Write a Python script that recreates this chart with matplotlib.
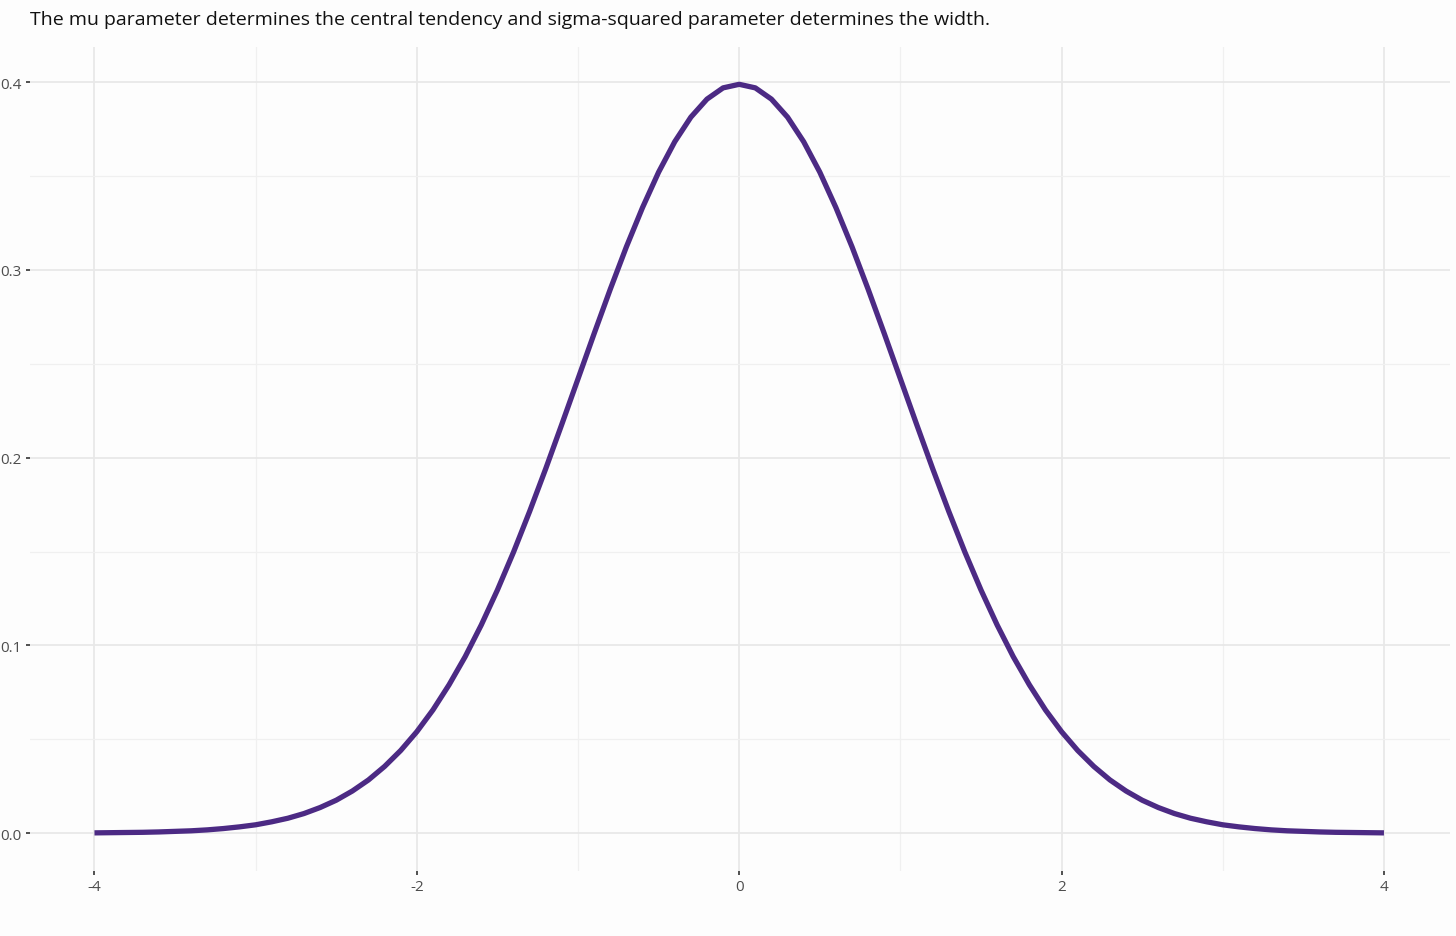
import numpy as np
import matplotlib
matplotlib.use("Agg")
import matplotlib.pyplot as plt
from matplotlib.ticker import MultipleLocator

title = "The mu parameter determines the central tendency and sigma-squared parameter determines the width."

# x positions (step 0.1 from -4 to 4)
x_vals = np.round(np.arange(-4.0, 4.0001, 0.1), 1)
# density values
right_half = [0.3989, 0.3970, 0.3910, 0.3814, 0.3683, 0.3521, 0.3332, 0.3123, 0.2897, 0.2661,
              0.2420, 0.2179, 0.1942, 0.1714, 0.1497, 0.1295, 0.1109, 0.0940, 0.0790, 0.0656,
              0.0540, 0.0440, 0.0355, 0.0283, 0.0224, 0.0175, 0.0136, 0.0104, 0.0079, 0.0060,
              0.0044, 0.0033, 0.0024, 0.0017, 0.0012, 0.0009, 0.0006, 0.0004, 0.0003, 0.0002,
              0.0001]
density = right_half[::-1] + right_half[1:]

x_ticks = [-4, -2, 0, 2, 4]
x_tick_labels = ["-4", "-2", "0", "2", "4"]
y_ticks = [0.0, 0.1, 0.2, 0.3, 0.4]
y_tick_labels = ["0.0", "0.1", "0.2", "0.3", "0.4"]

plt.rcParams['font.family'] = ['Open Sans', 'DejaVu Sans']

fig = plt.figure(figsize=(14.56, 9.37), dpi=100)
fig.patch.set_facecolor('#fdfdfd')
ax = fig.add_axes([0.0206, 0.0699, 0.9753, 0.8791])
ax.set_facecolor('#fdfdfd')

ax.plot(x_vals, density, color='#4c2a84', lw=3.8, solid_capstyle='butt', zorder=3)

ax.set_xlim(-4.4, 4.41)
ax.set_ylim(-0.01995, 0.41889)
ax.set_xticks(x_ticks)
ax.set_xticklabels(x_tick_labels)
ax.set_yticks(y_ticks)
ax.set_yticklabels(y_tick_labels)
ax.xaxis.set_minor_locator(MultipleLocator(1))
ax.yaxis.set_minor_locator(MultipleLocator(0.05))

ax.grid(which='major', color='#e8e8e8', lw=1.3, zorder=0)
ax.grid(which='minor', color='#f0f0f0', lw=0.9, zorder=0)
ax.set_axisbelow(True)
for s in ax.spines.values():
    s.set_visible(False)
ax.tick_params(which='major', length=3, width=1.2, color='#333333',
               labelsize=11, labelcolor='#4d4d4d', pad=3)
ax.tick_params(axis='y', pad=3)
ax.tick_params(which='minor', length=0)

fig.text(0.0206, 0.979, title, fontsize=14, color='#111111', ha='left', va='center')

fig.savefig('out.png', dpi=100, facecolor=fig.get_facecolor())
